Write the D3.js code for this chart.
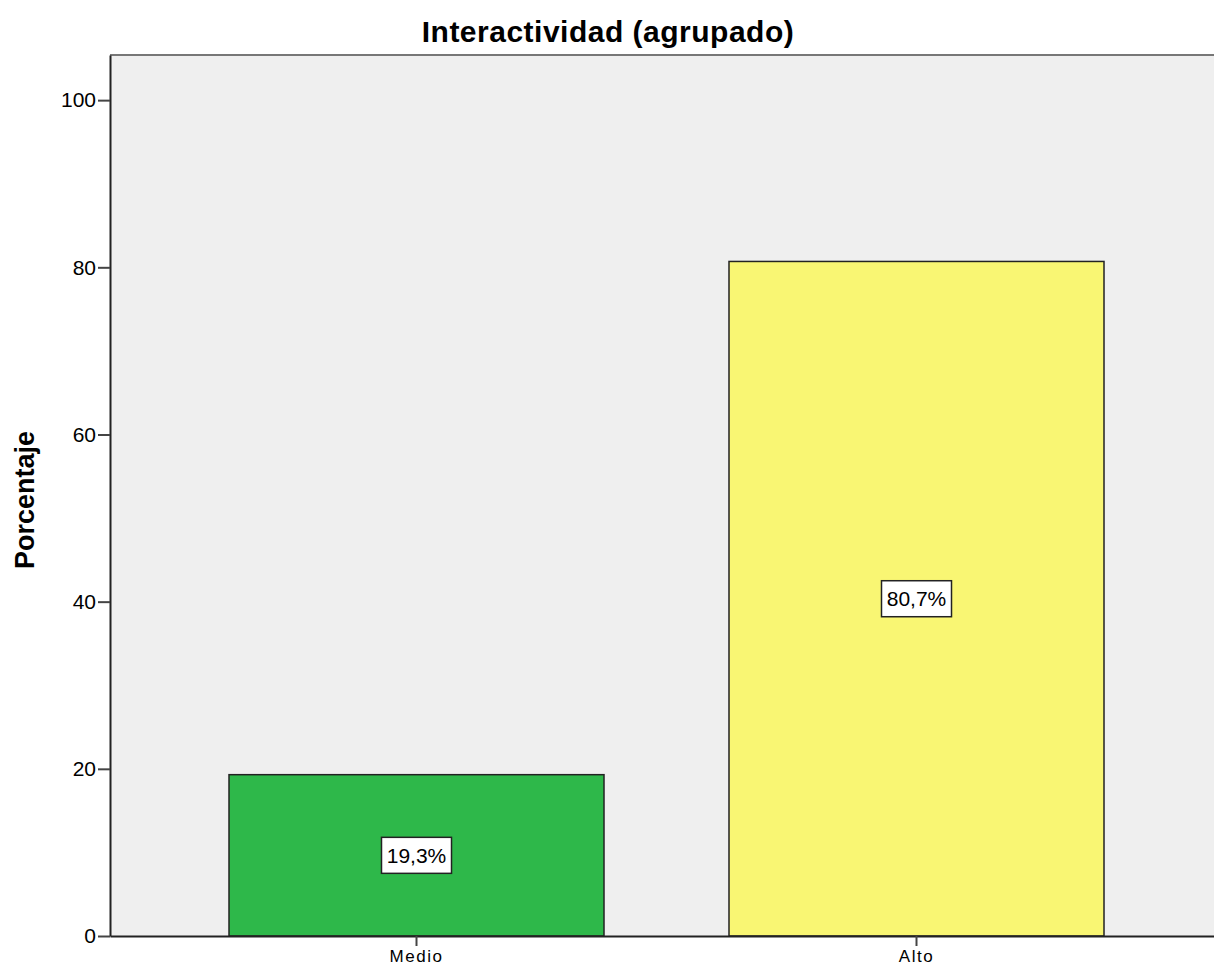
<!DOCTYPE html>
<html>
<head>
<meta charset="utf-8">
<script src="https://cdn.jsdelivr.net/npm/d3@7"></script>
<style>
    html, body { margin: 0; background: #fff; overflow: hidden; }
    svg { display: block; }
    text { font-family: "Liberation Sans", Arial, sans-serif; fill: #000; }
</style>
</head>
<body>
<svg id="chart"></svg>
<script>
// Chart data
const categories = ['Medio', 'Alto'];
const percentages = [19.3, 80.7];
const barColors = ['#2eb84a', '#f9f673'];
const yTicks = [0, 20, 40, 60, 80, 100];

const width = 1214, height = 973;
// the original is cropped on the right: the plot runs a few px past the window
const svgWidth = 1240;
const margin = {top: 55, right: -9, bottom: 37, left: 110};

const svg = d3.select('#chart')
    .attr('width', svgWidth)
    .attr('height', height);

const x = d3.scaleBand()
    .domain(categories)
    .range([margin.left, width - margin.right])
    .paddingInner(0.25)
    .paddingOuter(0.238);

const y = d3.scaleLinear()
    .domain([0, 105.4])
    .range([height - margin.bottom, margin.top]);

// plot background + top frame line
svg.append('rect')
    .attr('x', margin.left)
    .attr('y', margin.top)
    .attr('width', svgWidth - margin.left)
    .attr('height', height - margin.top - margin.bottom)
    .attr('fill', '#efefef');

svg.append('line')
    .attr('x1', margin.left).attr('x2', svgWidth)
    .attr('y1', margin.top).attr('y2', margin.top)
    .attr('stroke', '#777').attr('stroke-width', 2);

// Bars
const data = categories.map((c, i) => ({cat: c, value: percentages[i], color: barColors[i]}));

svg.selectAll('.bar')
    .data(data)
  .join('rect')
    .attr('class', 'bar')
    .attr('x', d => x(d.cat))
    .attr('y', d => y(d.value))
    .attr('width', x.bandwidth())
    .attr('height', d => y(0) - y(d.value))
    .attr('fill', d => d.color)
    .attr('stroke', '#222')
    .attr('stroke-width', 1.5);

// Value labels, placed at half the bar height
const labels = svg.selectAll('.val-label')
    .data(data)
  .join('g')
    .attr('class', 'val-label')
    .attr('transform', d => `translate(${x(d.cat) + x.bandwidth() / 2},${y(d.value / 2)})`);

labels.append('rect')
    .attr('x', -35).attr('y', -18)
    .attr('width', 70).attr('height', 36)
    .attr('fill', '#fff')
    .attr('stroke', '#222')
    .attr('stroke-width', 1.5);

labels.append('text')
    .attr('text-anchor', 'middle')
    .attr('dy', '0.36em')
    .style('font-size', '21px')
    .text(d => d.value.toFixed(1).replace('.', ',') + '%');

// Y axis
const yAxis = svg.append('g')
    .attr('transform', `translate(${margin.left},0)`)
    .call(d3.axisLeft(y).tickValues(yTicks).tickSize(12).tickSizeOuter(0).tickPadding(2));
yAxis.select('.domain').attr('stroke', '#222').attr('stroke-width', 2);
yAxis.selectAll('.tick line').attr('stroke', '#444').attr('stroke-width', 2);
yAxis.selectAll('text').style('font-size', '21px').attr('fill', '#111');

// X axis
const xAxis = svg.append('g')
    .attr('transform', `translate(0,${height - margin.bottom})`)
    .call(d3.axisBottom(x).tickSize(10).tickPadding(4).tickSizeOuter(0));
xAxis.select('.domain').attr('stroke', '#222').attr('stroke-width', 2);
xAxis.selectAll('.tick line').attr('stroke', '#444').attr('stroke-width', 2);
xAxis.selectAll('text')
    .style('font-size', '17px')
    .style('letter-spacing', '1.5px')
    .attr('fill', '#111');

// Title
svg.append('text')
    .attr('x', 608)
    .attr('y', 42)
    .attr('text-anchor', 'middle')
    .style('font-size', '30px')
    .style('letter-spacing', '0.5px')
    .style('font-weight', 'bold')
    .text('Interactividad (agrupado)');

// Y axis label
svg.append('text')
    .attr('transform', `translate(34,500) rotate(-90)`)
    .attr('text-anchor', 'middle')
    .style('font-size', '27px')
    .style('font-weight', 'bold')
    .text('Porcentaje');
</script>
</body>
</html>
